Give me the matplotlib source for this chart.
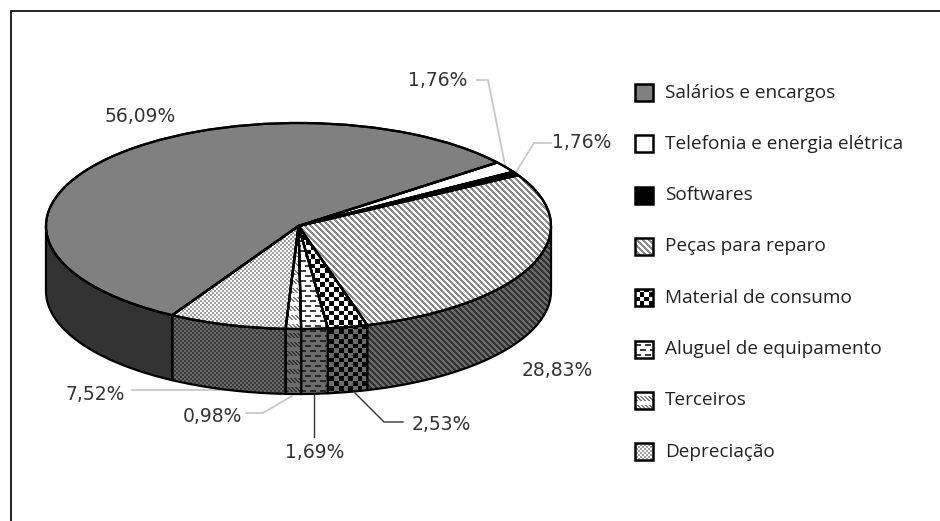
import numpy as np
import matplotlib
matplotlib.use("Agg")
import matplotlib.pyplot as plt
from matplotlib.patches import Polygon, Rectangle

plt.rcParams['font.family'] = ['Open Sans', 'DejaVu Sans']

categories = ['Salários e encargos', 'Telefonia e energia elétrica', 'Softwares', 'Peças para reparo',
              'Material de consumo', 'Aluguel de equipamento', 'Terceiros', 'Depreciação']
# slice sizes as drawn, softwares is much thinner than its printed label
slice_values = [56.09, 1.76, 0.60, 28.83, 2.53, 1.69, 0.98, 7.52]
value_labels = ['56,09%', '1,76%', '1,76%', '28,83%', '2,53%', '1,69%', '0,98%', '7,52%']

W, H = 940, 521
cx, cy, rx, ry = 298.5, 226.0, 252.5, 103.0
depth = 65.0 / ry


def px(x, y):
    return (x - cx) / rx, (cy - y) / ry


X, Y = np.meshgrid(np.arange(W), np.arange(H))
masks = {
    'flat': np.zeros((H, W), dtype=bool),
    'stripes': (X - Y) % 6 < 3,
    'checker': ((X / 4.7).astype(int) + (Y / 4.7).astype(int)) % 2 == 0,
    'dashes': ((X + 5 * (Y // 5 % 2)) % 10 < 6) & (Y % 5 < 2),
    'strokes': ((X - Y) % 4 < 2) & (Y % 9 < 5),
    'dots': (X // 2 + Y // 2) % 2 == 0,
}
# mask, (fg, bg) on the top face, (fg, bg) on the side wall
styles = [
    ('flat', (0.5, 0.5), (0.2, 0.2)),
    ('flat', (1, 1), (0.5, 0.5)),
    ('flat', (0, 0), (0, 0)),
    ('stripes', (0.55, 1), (0.2, 0.42)),
    ('checker', (0, 1), (0, 0.42)),
    ('dashes', (0.25, 1), (0.15, 0.42)),
    ('strokes', (0.5, 1), (0.2, 0.42)),
    ('dots', (0.62, 1), (0.22, 0.42)),
]
extent = (px(0, 0)[0], px(W, 0)[0], px(0, H)[1], px(0, 0)[1])

fig = plt.figure(figsize=(W / 100, H / 100), dpi=100)
ax = fig.add_axes([0, 0, 1, 1])


def fill(patch, mask, colors, z):
    patch.set_facecolor('none')
    patch.set_edgecolor('black')
    patch.set_zorder(z + 0.5)
    ax.add_patch(patch)
    img = ax.imshow(np.where(masks[mask], colors[0], colors[1]), cmap='gray', vmin=0, vmax=1,
                    extent=extent, aspect='auto', interpolation='nearest', zorder=z)
    img.set_clip_box(None)
    img.set_clip_path(patch)


wedges, _ = ax.pie(slice_values, startangle=240, counterclock=False,
                   wedgeprops={'linewidth': 1.6})


def wall_ranges(t1, t2):
    # parts of a slice that face the viewer
    out = []
    for lo, hi in [(-180, 0), (180, 360)]:
        a, b = max(t1, lo), min(t2, hi)
        if b > a:
            out.append((a, b))
    return out


for wedge, style in zip(wedges, styles):
    for a, b in wall_ranges(wedge.theta1, wedge.theta2):
        t = np.radians(np.linspace(a, b, 80))
        pts = np.r_[np.c_[np.cos(t), np.sin(t)], np.c_[np.cos(t), np.sin(t) - depth][::-1]]
        fill(Polygon(pts, closed=True, linewidth=1.6, joinstyle='round'), style[0], style[2], 3)
    fill(wedge, style[0], style[1], 4)

# leader lines
grey_leaders = [
    [(477, 80), (488, 80), (505, 165)],
    [(516, 172), (534, 143), (551, 143)],
    [(132, 390), (260, 390)],
    [(246, 413), (263, 413), (292, 396)],
]
dark_leaders = [
    [(314, 395), (314, 437)],
    [(355, 393), (384, 422), (403, 422)],
]
for line in grey_leaders:
    ax.plot(*zip(*[px(*p) for p in line]), color='#c8c8c8', lw=1.3, zorder=2)
for line in dark_leaders:
    ax.plot(*zip(*[px(*p) for p in line]), color='#333333', lw=1.0, zorder=5)

# percent labels, in category order
label_pos = [(140, 116), (438, 81), (582, 142), (557, 370), (441, 424), (315, 453), (212, 417), (95, 394)]
for text, (x, y) in zip(value_labels, label_pos):
    ax.text(*px(x, y), text, fontsize=13.5, color='#333333', ha='center', va='center', zorder=6,
            family='DejaVu Sans')

# legend
for i, (name, style) in enumerate(zip(categories, styles)):
    y = 92.5 + i * 51.3
    x0, y0 = px(634.5, y + 8.5)
    x1, y1 = px(652.5, y - 8.5)
    fill(Rectangle((x0, y0), x1 - x0, y1 - y0, linewidth=1.8), style[0], style[1], 4)
    ax.text(*px(665, y), name, fontsize=13.7, color='#222222', ha='left', va='center')

# frame, top and left only
ax.plot(*zip(px(940, 11), px(11, 11), px(11, 521)), color='#222222', lw=1.4, zorder=1)

ax.set_xlim(extent[0], extent[1])
ax.set_ylim(extent[2], extent[3])
ax.set_aspect('auto')
ax.axis('off')
fig.savefig('out.png', dpi=100)
